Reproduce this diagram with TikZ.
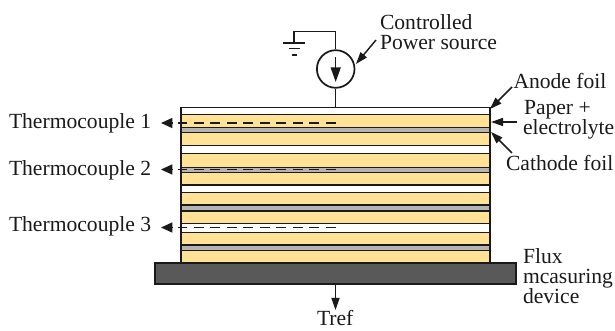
\documentclass[tikz,border=0pt]{standalone}
\usepackage{fontspec}
\setmainfont{Liberation Serif}
\usetikzlibrary{arrows.meta}
\definecolor{paperY}{HTML}{FFE296}
\definecolor{foilG}{HTML}{B4B4B4}
\definecolor{fluxD}{HTML}{595959}
\definecolor{inkK}{HTML}{1A1A1A}
\tikzset{
  x=0.75pt,y=-0.75pt,
  lbl/.style={anchor=base west,inner sep=0pt,outer sep=0pt,font=\fontsize{16.2}{18}\selectfont,text=inkK},
  wire/.style={draw=inkK,line width=1.1pt},
  layer/.style={draw=inkK,line width=1.1pt},
  ptr/.style={wire,-{Triangle[length=9pt,width=6pt]}},
  tchead/.style={wire,-{Triangle[length=8.5pt,width=7.5pt]}},
  tcdash/.style={draw=inkK,line width=1pt,dash pattern=on 7.5pt off 4.9pt},
}
\begin{document}
\begin{tikzpicture}
\useasboundingbox (0,0) rectangle (615,331);
% stack layers
\foreach \ya/\yb/\col in {
  107.5/114.5/white, 114.5/127.5/paperY, 127.5/132.5/foilG, 132.5/145.5/paperY,
  145.5/153.5/white, 153.5/167.5/paperY, 167.5/172.5/foilG, 172.5/185/paperY,
  185/192.5/white, 192.5/205/paperY, 205/211/foilG, 211/223.5/paperY,
  223.5/232.5/white, 232.5/245/paperY, 245/250.5/foilG, 250.5/263/paperY}{
  \filldraw[layer,fill=\col] (181,\ya) rectangle (490,\yb);
}
\node[draw=inkK,fill=fluxD,line width=1.1pt,minimum width=270.75pt,minimum height=15.75pt,inner sep=0pt] (flux) at (335.5,273.5) {};
% source
\node[circle,draw=inkK,line width=1.3pt,minimum size=28.2pt,inner sep=0pt,fill=white] (src) at (335.7,69) {};
\coordinate (top) at (335.7,107.5);
\coordinate (corner1) at (335.7,31.7);
\coordinate (corner2) at (294,31.7);
\coordinate (gnd) at (294,43);
\draw[wire] (src.north) -- (corner1) -- (corner2) -- (gnd);
\draw[wire] (src.south) -- (top);
\coordinate (g1a) at (283,43); \coordinate (g1b) at (305,43);
\coordinate (g2a) at (288.5,48.5); \coordinate (g2b) at (300,48.5);
\coordinate (g3a) at (291.5,55); \coordinate (g3b) at (297,55);
\draw[wire] (g1a) -- (g1b);
\draw[wire] (g2a) -- (g2b);
\draw[wire] (g3a) -- (g3b);
\coordinate (ia) at (335.7,57); \coordinate (ib) at (335.7,82);
\draw[wire,-{Triangle[length=11pt,width=7.5pt]}] (ia) -- (ib);
% thermocouples
\foreach \n/\y/\lb in {1/123/128.5,2/169.5/175.5,3/227.5/232}{
  \coordinate (d\n a) at (336,\y); \coordinate (d\n b) at (178,\y);
  \coordinate (h\n a) at (172.5,\y); \coordinate (h\n b) at (161,\y);
  \draw[tcdash] (d\n a) -- (d\n b);
  \draw[tchead] (h\n a) -- (h\n b);
  \node[lbl] (t\n) at (9,\lb) {Thermocouple \n};
}
% labels
\node[lbl] (c1) at (380,29.8) {Controlled};
\node[lbl] (c2) at (380,49.5) {Power source};
\node[lbl] (an) at (513.5,88.5) {Anode foil};
\node[lbl] (pa) at (524,114.2) {Paper +};
\node[lbl] (el) at (523,134.5) {electrolyte};
\node[lbl] (ca) at (506,170.5) {Cathode foil};
\node[lbl] (f1) at (523,263.5) {Flux};
\node[lbl] (f2) at (523,283.5) {mcasuring};
\node[lbl] (f3) at (523,303.5) {device};
\node[lbl] (tr) at (317,326) {Tref};
% pointers
\coordinate (pw) at (376,40); \coordinate (pwe) at (356,64);
\coordinate (ana) at (512,87); \coordinate (ane) at (490,109);
\coordinate (paa) at (517,122); \coordinate (pae) at (491,122);
\coordinate (caa) at (512,153); \coordinate (cae) at (491,132);
\coordinate (tre) at (335.5,310);
\draw[ptr] (pw) -- (pwe);
\draw[ptr] (ana) -- (ane);
\draw[ptr] (paa) -- (pae);
\draw[ptr] (caa) -- (cae);
\draw[ptr] (flux.south) -- (tre);
\end{tikzpicture}
\end{document}
